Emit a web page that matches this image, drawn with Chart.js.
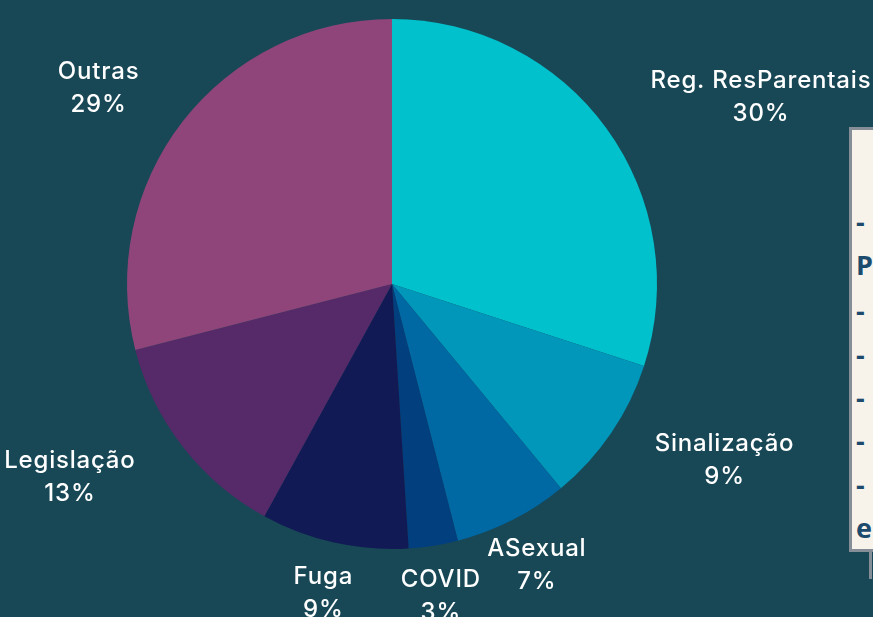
<!DOCTYPE html>
<html>
<head>
<meta charset="utf-8">
<script src="https://cdn.jsdelivr.net/npm/chart.js@4.4.1/dist/chart.umd.min.js"></script>
<style>
  html, body { margin: 0; padding: 0; background: #184856; overflow: hidden; }
  #wrap { position: relative; width: 873px; height: 617px; }
  #c { position: absolute; left: 0; top: 0; }
  #note {
    position: absolute; left: 849px; top: 127px; width: 60px; height: 425px;
    background: #f8f3ea; border: 3px solid #858d96; box-sizing: border-box;
    font-family: "Open Sans", sans-serif; font-weight: 700; font-size: 27px;
    color: #1d4b6e; overflow: hidden;
  }
  #note div { position: absolute; left: 4px; line-height: 30px; }
  #conn { position: absolute; left: 869px; top: 552px; width: 3px; height: 27px; background: #858d96; }
</style>
</head>
<body>
<div id="wrap">
  <canvas id="c" width="873" height="617"></canvas>
  <div id="note">
    <div style="top:77px">-</div>
    <div style="top:120px">P</div>
    <div style="top:166px">-</div>
    <div style="top:210px">-</div>
    <div style="top:253px">-</div>
    <div style="top:296px">-</div>
    <div style="top:340px">-</div>
    <div style="top:383px">e</div>
  </div>
  <div id="conn"></div>
</div>
<script>
const categories = ["Reg. ResParentais", "Sinalização", "ASexual", "COVID", "Fuga", "Legislação", "Outras"];
const values = [30, 9, 7, 3, 9, 13, 29];
const colors = ["#00c1cc", "#0097ba", "#0068a2", "#023f7e", "#121a55", "#562968", "#8f4579"];

const outsideLabels = {
  id: "outsideLabels",
  afterDatasetsDraw(chart, args, opts) {
    const ctx = chart.ctx;
    const meta = chart.getDatasetMeta(0);
    const data = chart.data.datasets[0].data;
    const total = data.reduce((a, b) => a + b, 0);
    ctx.save();
    ctx.font = opts.font;
    if ("letterSpacing" in ctx) ctx.letterSpacing = opts.letterSpacing;
    ctx.fillStyle = opts.color;
    ctx.textAlign = "center";
    ctx.textBaseline = "middle";
    const lh = opts.lineHeight;
    meta.data.forEach((arc, i) => {
      const p = arc.getProps(["x", "y", "startAngle", "endAngle", "outerRadius"], true);
      const mid = (p.startAngle + p.endAngle) / 2;
      const dx = Math.cos(mid), dy = Math.sin(mid);
      const l1 = chart.data.labels[i];
      const l2 = Math.round(data[i] / total * 100) + "%";
      const hw = Math.max(ctx.measureText(l1).width, ctx.measureText(l2).width) / 2;
      const hh = lh;
      const n = opts.nudge[i] || [0, 0];
      const cx = p.x + dx * (p.outerRadius + opts.gap) + dx * hw + n[0];
      const cy = p.y + dy * (p.outerRadius + opts.gap) + dy * hh + n[1];
      ctx.fillText(l1, cx, cy - lh / 2);
      ctx.fillText(l2, cx, cy + lh / 2);
    });
    ctx.restore();
  }
};

new Chart(document.getElementById("c"), {
  type: "pie",
  data: {
    labels: categories,
    datasets: [{ data: values, backgroundColor: colors, borderWidth: 0 }]
  },
  options: {
    responsive: false,
    animation: false,
    layout: { padding: { left: 127, right: 216, top: 19, bottom: 68 } },
    plugins: {
      legend: { display: false },
      tooltip: { enabled: false },
      outsideLabels: {
        font: "500 24px Inter, 'Noto Sans', sans-serif",
        letterSpacing: "0.8px",
        color: "#ffffff",
        lineHeight: 33,
        gap: 20,
        nudge: [[49, 0], [39, -2], [-7, -2], [-2, -2], [0, -1], [-45, -2], [-36, -1]]
      }
    }
  },
  plugins: [outsideLabels]
});
</script>
</body>
</html>
